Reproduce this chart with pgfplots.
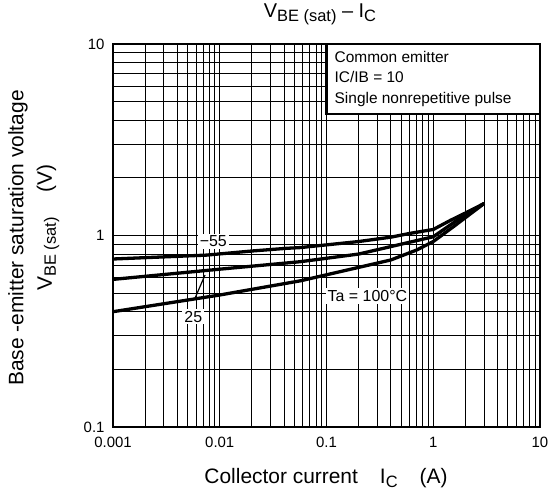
\documentclass[border=0pt]{standalone}
\usepackage{pgfplots}
\pgfplotsset{compat=1.18}
\usepackage{fontspec}
\setmainfont{Liberation Sans}
\newcommand{\sub}[1]{\raisebox{-4bp}{\fontsize{16.5}{17}\selectfont #1}}
\begin{document}
\begin{tikzpicture}
\useasboundingbox (-113bp,-70bp) rectangle (442bp,427bp);
\begin{axis}[
  at={(0,0)}, anchor=south west,
  scale only axis, width=427bp, height=383bp,
  xmode=log, ymode=log,
  xmin=0.001, xmax=10, ymin=0.1, ymax=10,
  clip=false,
  xtick={0.001,0.01,0.1,1,10}, xticklabels={0.001,0.01,0.1,1,10},
  ytick={0.1,1,10}, yticklabels={0.1,1,10},
  minor xtick={0.002,0.003,0.004,0.005,0.006,0.007,0.008,0.009,
               0.02,0.03,0.04,0.05,0.06,0.07,0.08,0.09,
               0.2,0.3,0.4,0.5,0.6,0.7,0.8,0.9,
               2,3,4,5,6,7,8,9},
  minor ytick={0.2,0.3,0.4,0.5,0.6,0.7,0.8,0.9,2,3,4,5,6,7,8,9},
  grid=both,
  major grid style={black, line width=1.5bp},
  minor grid style={black, line width=1bp},
  major tick length=0pt, minor tick length=0pt,
  axis line style={black, line width=2.4bp},
  tick label style={font=\fontsize{15}{17}\selectfont, black},
  xticklabel style={yshift=-7bp},
  yticklabel style={xshift=-5bp},
]
% -55 C
\addplot[black, line width=3.3bp, line join=round] coordinates {
 (0.001,0.754) (0.0075,0.79) (0.02,0.83) (0.042,0.857) (0.057,0.865)
 (0.2,0.93) (0.4,0.98) (0.6,1.025) (1.0,1.075) (1.45,1.2) (2.0,1.31) (3.0,1.47)};
% 25 C
\addplot[black, line width=3.3bp, line join=round] coordinates {
 (0.001,0.59) (0.01,0.667) (0.057,0.73) (0.2,0.8) (0.4,0.875)
 (1.0,0.985) (1.78,1.23) (3.0,1.47)};
% 100 C
\addplot[black, line width=3.3bp, line join=round] coordinates {
 (0.001,0.40) (0.01,0.489) (0.057,0.58) (0.4,0.745) (0.7,0.84)
 (1.0,0.93) (1.54,1.11) (3.0,1.47)};
% leader line for 25
\addplot[black, line width=1.2bp] coordinates {(0.00586,0.47) (0.00728,0.622)};
\node[fill=white, inner sep=2bp, font=\fontsize{16}{18}\selectfont] at (axis cs:0.0087,0.93) {−55};
\node[fill=white, inner sep=2bp, font=\fontsize{16}{18}\selectfont] at (axis cs:0.00565,0.377) {25};
\node[fill=white, inner sep=2bp, font=\fontsize{16}{18}\selectfont] at (axis cs:0.242,0.483) {Ta = 100°C};
% condition box
\draw[fill=white, line width=2.2bp] (axis cs:0.1,10) rectangle (axis cs:10,4.3);
\node[anchor=north west, align=left, inner sep=0pt, font=\fontsize{15.5}{20.5}\selectfont]
  at (axis cs:0.1,10) [xshift=8bp, yshift=-7bp] {Common emitter\\IC/IB = 10\\Single nonrepetitive pulse};
\end{axis}
% title
\node[font=\fontsize{20}{22}\selectfont] at (207bp,413bp)
  {V\sub{BE (sat)} – I\sub{C}};
% x label
\node[font=\fontsize{21}{23}\selectfont] at (213bp,-51bp)
  {Collector current\hspace{22bp}I\sub{C}\hspace{22bp}(A)};
% y label
\node[font=\fontsize{21}{23}\selectfont, rotate=90] at (-95bp,189bp)
  {Base -emitter saturation voltage};
\node[font=\fontsize{21}{23}\selectfont, rotate=90] at (-65bp,199.5bp)
  {V\sub{BE (sat)}\hspace{25bp}(V)};
\end{tikzpicture}
\end{document}
